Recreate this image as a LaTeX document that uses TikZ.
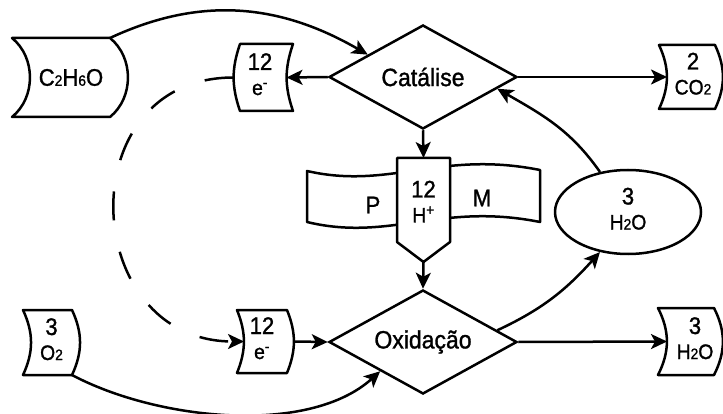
\documentclass[tikz,border=0pt]{standalone}
\usepackage{fontspec}
\setmainfont{Liberation Sans}[FakeStretch=0.92,FakeBold=1.2]
\usetikzlibrary{shapes.geometric,arrows.meta,calc}
\newcommand\fa{\fontsize{25}{28}\selectfont}
\newcommand\fb{\fontsize{24}{25}\selectfont}
\newcommand\fc{\fontsize{21}{22}\selectfont}
\newcommand\sm[1]{{\fontsize{15}{15}\selectfont #1}}
\newcommand\Rout[3]{\draw[outl] ([xshift=-#2pt]#1.north west) to[bend left=#3] ([xshift=-#2pt]#1.south west) -- ([xshift=-#2pt]#1.south east) to[bend right=#3] ([xshift=-#2pt]#1.north east) -- cycle;}
\newcommand\Lout[3]{\draw[outl] ([xshift=#2pt]#1.north west) to[bend right=#3] ([xshift=#2pt]#1.south west) -- ([xshift=#2pt]#1.south east) to[bend left=#3] ([xshift=#2pt]#1.north east) -- cycle;}
\tikzset{
  outl/.style={line width=2.5pt, line join=round},
  arr/.style={line width=2.5pt, -{Stealth[length=16pt,width=15pt,inset=4pt]}},
  bx/.style={rectangle, inner sep=0pt, outer sep=0pt, font=\fb},
  dia/.style={diamond, draw, line width=2.5pt, aspect=1.8, inner sep=0pt,
    minimum width=188pt, minimum height=104pt, font=\fa},
}
\begin{document}
\begin{tikzpicture}[x=1pt,y=1pt]
\fill[white] (0,0) rectangle (723,-414);
\useasboundingbox (0,0) rectangle (723,-414);

% membrane tape
\draw[outl] (307,-171) .. controls (390,-190) and (440,-150) .. (540,-170)
  -- (540,-222) .. controls (440,-202) and (390,-242) .. (307,-222) -- cycle;
\node[font=\fb] (p) at (373,-205) {P};
\node[font=\fb] (m) at (482,-198) {M};

% boxes
\node[bx, minimum width=98pt, minimum height=79pt] (c2) at (79,-77.5)
  {C\sm{2}H\sm{6}O\hspace*{16pt}};
\Rout{c2}{18}{51}
\node[bx, minimum width=53pt, minimum height=67pt] (top12) at (260,-77.5)
  {\begin{tabular}{@{}c@{}}12\\\fc e\textsuperscript{-}\end{tabular}};
\Lout{top12}{6.5}{19}
\node[bx, minimum width=50pt, minimum height=63pt] (bot12) at (269,-341.5)
  {\begin{tabular}{@{}c@{}}12\\\fc e\textsuperscript{-}\end{tabular}\hspace*{14pt}};
\Rout{bot12}{7}{22}
\node[bx, minimum width=49pt, minimum height=65pt] (o2) at (55.5,-342.5)
  {\begin{tabular}{@{}c@{}}3\\\fc O\sm{2}\end{tabular}\hspace*{8pt}};
\Rout{o2}{8}{25}
\node[bx, minimum width=56pt, minimum height=64pt] (co2) at (695,-77)
  {\begin{tabular}{@{}c@{}}2\\\fc CO\sm{2}\end{tabular}\hspace*{4pt}};
\Rout{co2}{8}{25}
\node[bx, minimum width=56pt, minimum height=67pt] (h2o) at (695,-341.5)
  {\begin{tabular}{@{}c@{}}3\\\fc H\sm{2}O\end{tabular}};
\Rout{h2o}{9}{27}

% diamonds
\node[dia] (cat) at (423,-77) {Catálise};
\node[dia] (oxi) at (423,-342) {Oxidação};

% proton pentagon
\node[bx, fill=white, minimum width=53pt, minimum height=94pt] (h) at (423.5,-205)
  {\begin{tabular}{@{}c@{}}12\\\fc H\textsuperscript{+}\end{tabular}};
\draw[outl] (h.north west) -- (h.north east) -- ([yshift=10pt]h.south east)
  -- ([yshift=-10pt]h.south) -- ([yshift=10pt]h.south west) -- cycle;
\coordinate (htip) at ([yshift=-10pt]h.south);

% water ellipse
\node[ellipse, draw, line width=2.5pt, inner sep=0pt, minimum width=146pt,
  minimum height=84pt, font=\fb] (ell) at (628,-212)
  {\begin{tabular}{@{}c@{}}3\\\fc H\sm{2}O\end{tabular}};

% connectors
\draw[arr] ([xshift=-18pt]c2.north east) to[out=25,in=150] ($(cat.west)!0.42!(cat.north)$);
\draw[arr] (cat.west) -- (top12.east);
\draw[arr] (cat.east) -- (co2.west);
\draw[arr] (cat.south) -- (h.north);
\draw[arr] (htip) -- (oxi.north);
\draw[arr] (bot12.east) -- (oxi.west);
\draw[arr] (oxi.east) -- (h2o.west);
\draw[arr] ([xshift=-8pt]o2.south east) to[out=-28,in=222,looseness=0.8] ($(oxi.west)!0.55!(oxi.south)$);
\draw[arr, dash pattern=on 29pt off 32pt] (top12.west) to[out=180,in=180,looseness=1.6] (bot12.west);
\draw[arr] (ell.125) to[out=125,in=-30] ($(cat.east)!0.22!(cat.south)$);
\draw[arr] ($(oxi.east)!0.22!(oxi.north)$) to[out=25,in=228] (ell.235);
\end{tikzpicture}
\end{document}
